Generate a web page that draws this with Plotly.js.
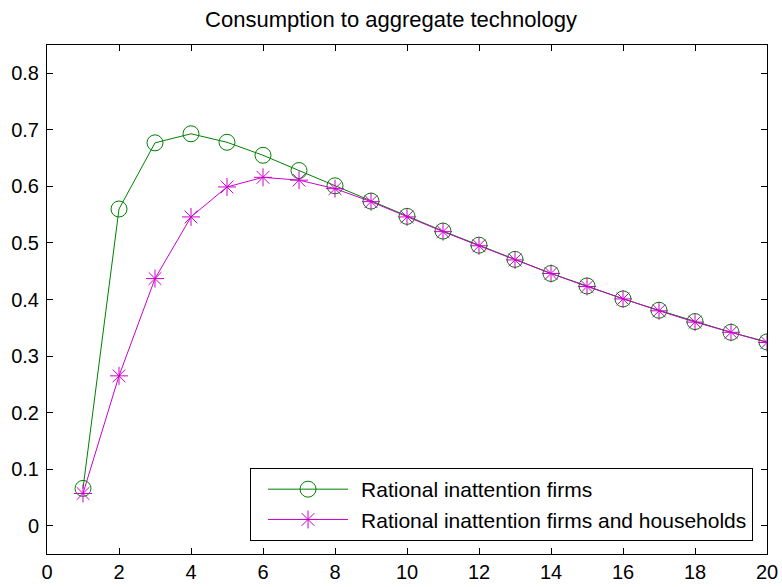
<!DOCTYPE html>
<html>
<head>
<meta charset="utf-8">
<script src="https://cdn.plot.ly/plotly-3.0.1.min.js"></script>
<style>html,body{margin:0;padding:0;background:#fff}#chart{width:782px;height:587px}</style>
</head>
<body>
<div id="chart"></div>
<script>
const periods = [1,2,3,4,5,6,7,8,9,10,11,12,13,14,15,16,17,18,19,20];
const riFirms = [0.066,0.560,0.677,0.693,0.678,0.655,0.628,0.601,0.574,0.547,0.521,0.496,0.471,0.446,0.424,0.401,0.381,0.361,0.342,0.325];
const riFirmsHouseholds = [0.057,0.265,0.437,0.546,0.599,0.616,0.611,0.596,0.573,0.546,0.520,0.495,0.470,0.446,0.423,0.401,0.380,0.360,0.342,0.324];
const xTicks = [0,2,4,6,8,10,12,14,16,18,20];
const yTicks = [0,0.1,0.2,0.3,0.4,0.5,0.6,0.7,0.8];
const yTickText = ['0','0.1','0.2','0.3','0.4','0.5','0.6','0.7','0.8'];

const green = '#008000';
const magenta = '#cc00cc';

const traces = [
  {x: periods, y: riFirms, type: 'scatter', mode: 'lines+markers', name: 'Rational inattention firms',
   line: {color: green, width: 1}, marker: {symbol: 'circle-open', size: 16, color: green, line: {width: 1, color: green}}},
  {x: periods, y: riFirmsHouseholds, type: 'scatter', mode: 'lines+markers', name: 'Rational inattention firms and households',
   line: {color: magenta, width: 1}, marker: {symbol: 'asterisk-open', size: 15, color: magenta, line: {width: 1, color: magenta}}}
];

const fam = 'Liberation Sans, Arial, sans-serif';
const axisCommon = {showgrid: false, zeroline: false, showline: true, linecolor: '#000', linewidth: 1, mirror: 'ticks',
  ticks: 'inside', ticklen: 6, tickcolor: '#000', tickwidth: 1, tickfont: {family: fam, size: 20, color: '#000'}};

const layout = {
  width: 782, height: 587,
  margin: {l: 47, r: 15, t: 45, b: 33},
  paper_bgcolor: '#fff', plot_bgcolor: '#fff',
  font: {family: fam, color: '#000'},
  title: {text: 'Consumption to aggregate technology', font: {size: 22, color: '#000'}, x: 0.5, xanchor: 'center', y: 1 - 19/587, yanchor: 'middle'},
  xaxis: Object.assign({}, axisCommon, {range: [0, 20], tickvals: xTicks, ticktext: xTicks.map(String)}),
  yaxis: Object.assign({}, axisCommon, {range: [-0.05, 0.85], tickvals: yTicks, ticktext: yTickText, ticklabelstandoff: 3}),
  showlegend: true,
  legend: {x: 0.9806, xanchor: 'right', y: 0.0255, yanchor: 'bottom', bgcolor: '#fff', bordercolor: '#000', borderwidth: 1,
    font: {size: 21, color: '#000'}, tracegroupgap: 0, itemwidth: 100}
};

Plotly.newPlot('chart', traces, layout, {displayModeBar: false, staticPlot: true}).then(function (gd) {
  // lengthen legend glyph lines to MATLAB-like style
  gd.querySelectorAll('.legend .legendlines path').forEach(function (p) { p.setAttribute('d', 'M17,0h80'); });
  gd.querySelectorAll('.legend .legendpoints path').forEach(function (p) { p.setAttribute('transform', 'translate(57,0)'); });
});
</script>
</body>
</html>
